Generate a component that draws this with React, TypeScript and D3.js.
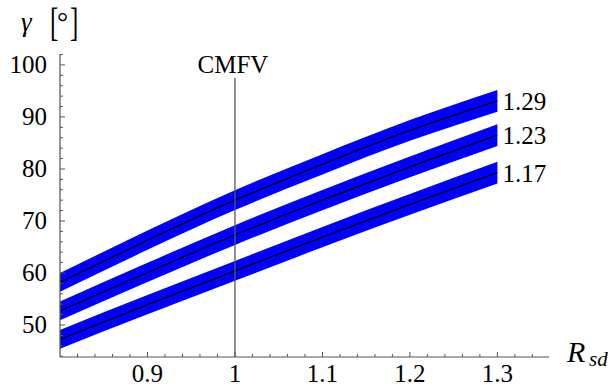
import React from "react";
import * as d3 from "d3";

// R_sd sample points and gamma values (degrees) for each curve
const rsd = [0.8, 0.9, 1.0, 1.1, 1.2, 1.3];
const gamma129 = [58.2, 66.3, 74.0, 80.9, 87.4, 93.1];
const gamma123 = [52.7, 60.1, 67.3, 74.0, 80.4, 86.5];
const gamma117 = [47.25, 53.9, 60.4, 66.9, 73.2, 79.3];
const bandHalf = [1.8, 1.85, 1.9, 1.95, 2.0, 2.1];
const curveLabels = ["1.29", "1.23", "1.17"];

const xMajor = [0.9, 1.0, 1.1, 1.2, 1.3];
const xTickLabels = ["0.9", "1", "1.1", "1.2", "1.3"];
const yMajor = [50, 60, 70, 80, 90, 100];

const W = 615;
const H = 385;
const font = "Liberation Serif, DejaVu Serif, Times New Roman, serif";
const axisColor = "#555";

export default function App() {
  const x = d3.scaleLinear().domain([0.8, 1.359]).range([60, 549]);
  const y = d3.scaleLinear().domain([43.85, 102.1]).range([357, 54]);

  const xMinor = d3.range(0.82, 1.35, 0.02).filter(
    (v) => !xMajor.some((m) => Math.abs(m - v) < 1e-6)
  );
  const yMinor = d3.range(44, 103, 2).filter((v) => v % 10 !== 0);

  const series = [gamma129, gamma123, gamma117];

  const band = d3
    .area<number>()
    .x((_, i) => x(rsd[i]))
    .curve(d3.curveNatural);
  const line = d3
    .line<number>()
    .x((_, i) => x(rsd[i]))
    .y((d) => y(d))
    .curve(d3.curveNatural);

  const x0 = x.range()[0];
  const yBase = y.range()[0];
  const txt = { fontFamily: font };

  return (
    <svg
      width={W}
      height={H}
      style={{ position: "absolute", left: 0, top: 0, background: "#fff", fontFamily: font }}
    >
      {series.map((s, k) => (
        <g key={k}>
          <path
            d={
              band
                .y0((d, i) => y(d - bandHalf[i]))
                .y1((d, i) => y(d + bandHalf[i]))(s) || ""
            }
            fill="#0000ff"
          />
          <path d={line(s) || ""} fill="none" stroke="#000" strokeWidth={1.3} />
          <text style={txt} x={x(1.3) + 5} y={y(s[s.length - 1]) + 9} fontSize={25}>
            {curveLabels[k]}
          </text>
        </g>
      ))}

      {/* CMFV line */}
      <line x1={x(1)} x2={x(1)} y1={78} y2={yBase} stroke={axisColor} strokeWidth={1.3} />
      <text style={txt} x={x(1) - 2} y={73} fontSize={25} textAnchor="middle">
        CMFV
      </text>

      {/* x axis */}
      <line x1={x0} x2={x.range()[1]} y1={yBase} y2={yBase} stroke={axisColor} strokeWidth={1.2} />
      {xMajor.map((v) => (
        <line key={"xm" + v} x1={x(v)} x2={x(v)} y1={yBase} y2={yBase - 5} stroke={axisColor} />
      ))}
      {xMinor.map((v) => (
        <line key={"xn" + v} x1={x(v)} x2={x(v)} y1={yBase} y2={yBase - 3} stroke={axisColor} />
      ))}
      {xMajor.map((v, i) => (
        <text style={txt} key={"xl" + v} x={x(v)} y={382} fontSize={25} textAnchor="middle">
          {xTickLabels[i]}
        </text>
      ))}

      {/* y axis */}
      <line x1={x0} x2={x0} y1={y.range()[1]} y2={yBase} stroke={axisColor} strokeWidth={1.2} />
      {yMajor.map((v) => (
        <line key={"ym" + v} x1={x0} x2={x0 + 5} y1={y(v)} y2={y(v)} stroke={axisColor} />
      ))}
      {yMinor.map((v) => (
        <line key={"yn" + v} x1={x0} x2={x0 + 3} y1={y(v)} y2={y(v)} stroke={axisColor} />
      ))}
      {yMajor.map((v) => (
        <text style={txt} key={"yl" + v} x={47} y={y(v) + 8} fontSize={25} textAnchor="end">
          {v}
        </text>
      ))}

      {/* axis labels */}
      <text style={txt} x={21} y={31} fontSize={27} fontStyle="italic">
        γ
      </text>
      <text style={txt} transform="translate(50,36) scale(1,1.6)" fontSize={25}>
        [
      </text>
      <text style={txt} x={57} y={31} fontSize={28}>
        °
      </text>
      <text style={txt} transform="translate(70,36) scale(1,1.6)" fontSize={25}>
        ]
      </text>

      <text style={txt} x={567} y={362} fontSize={30} fontStyle="italic">
        R
      </text>
      <text style={txt} x={589} y={366} fontSize={21} fontStyle="italic">
        sd
      </text>
    </svg>
  );
}
